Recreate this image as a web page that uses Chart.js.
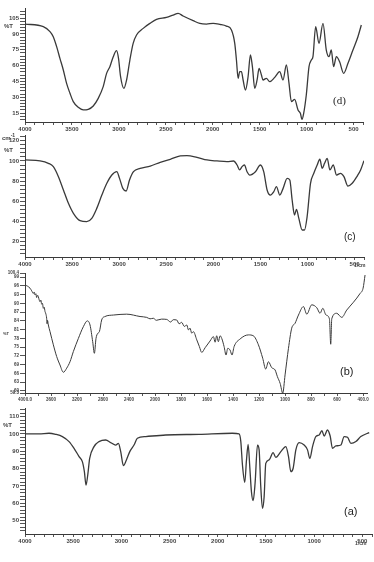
<!DOCTYPE html>
<html>
<head>
<meta charset="utf-8">
<script src="https://cdn.jsdelivr.net/npm/chart.js@4.4.1/dist/chart.umd.min.js"></script>
<style>
html, body { margin:0; padding:0; background:#fff; }
body { width:374px; height:562px; position:relative; overflow:hidden; font-family:"Liberation Sans", Arial, sans-serif; }
.pane { position:absolute; left:0; width:374px; }
.lbl { position:absolute; color:#333; white-space:nowrap; line-height:1; }
.tiny { font-size:6px; font-weight:bold; color:#444; }
.tag { font-size:11px; color:#222; }
</style>
</head>
<body>
<div class="pane" style="top:0;height:140px"><canvas id="chD"></canvas></div>
<div class="pane" style="top:130px;height:145px"><canvas id="chC"></canvas></div>
<div class="pane" style="top:268px;height:140px"><canvas id="chB"></canvas></div>
<div class="pane" style="top:403px;height:150px"><canvas id="chA"></canvas></div>

<div class="lbl tiny" style="left:4px;top:23px">%T</div>
<div class="lbl tiny" style="left:2px;top:133px">cm<sup style="font-size:5px">-1</sup></div>
<div class="lbl tiny" style="left:4px;top:147px">%T</div>
<div class="lbl tiny" style="left:3px;top:332px;font-size:4px">%T</div>
<div class="lbl tiny" style="left:3px;top:422px">%T</div>
<div class="lbl tiny" style="left:354px;top:263px;font-size:5px">1/cm</div>
<div class="lbl tiny" style="left:355px;top:541px;font-size:5px">1/cm</div>
<div class="lbl tag" style="left:333px;top:95px;font-family:'Liberation Serif',serif">(d)</div>
<div class="lbl tag" style="left:344px;top:232px;font-size:10px">(c)</div>
<div class="lbl tag" style="left:340px;top:366px">(b)</div>
<div class="lbl tag" style="left:344px;top:506px">(a)</div>

<script>
// (d) spectrum
const dWave = [4000,3805,3734,3699,3663,3628,3592,3557,3521,3486,3433,3379,3326,3273,3220,3167,3131,3096,3060,3025,
  3004,2982,2947,2918,2883,2848,2812,2741,2670,2599,2493,2422,2369,2316,2209,2138,2067,1996,1926,1855,
  1801,1766,1748,1730,1713,1695,1677,1652,1624,1599,1578,1553,1528,1507,1482,1465,1429,1394,1340,1287,
  1252,1216,1188,1163,1128,1092,1067,1050,1032,1004,975,950,933,904,869,826,791,762,738,713,
  684,649,606,560,507,454,418];
const dT = [99.3,96.8,92.1,87.3,77.9,66.8,55.8,43.1,33.7,25.8,20.4,17.9,18.5,21.7,28.9,40.0,52.6,58.9,68.4,74.1,
  66.8,49.4,38.4,46.3,65.2,81.0,88.9,95.2,99.9,103.7,105.6,107.8,109.4,106.9,102.5,99.9,99.3,99.9,99.0,97.4,
  93.6,81.0,65.2,47.9,54.2,54.2,46.3,36.8,49.4,70.0,58.9,38.4,46.3,57.3,51.0,46.3,47.9,44.7,48.8,54.2,
  46.3,60.5,43.1,25.8,28.0,17.9,14.7,9.0,14.7,32.1,58.9,65.2,68.4,96.8,81.0,99.9,74.7,68.4,74.7,58.9,
  68.4,63.6,52.6,62.1,74.7,87.3,98.4];

// (c) spectrum
const cWave = [4000,3840,3752,3699,3645,3592,3539,3486,3415,3344,3291,3238,3184,3131,3078,3025,2996,2961,2926,2890,
  2848,2777,2670,2564,2457,2351,2280,2174,2067,1961,1855,1784,1748,1720,1695,1670,1642,1613,1553,1500,
  1465,1429,1394,1358,1330,1294,1259,1216,1188,1163,1138,1117,1092,1057,1032,1004,968,933,897,869,
  844,819,791,762,727,691,649,613,571,525,472,436,400];
const cT = [101,100,97.7,94.4,84.5,71.3,58.1,48.2,40.9,39.9,43.2,53.1,66.3,77.9,86.1,89.4,82.8,72.9,70.3,81.2,
  89.4,92.7,95.0,98.7,101.7,105.0,105.3,103.6,101.0,100,99.3,100,96.0,91.1,94.4,96.0,89.4,86.1,89.4,96.0,
  89.4,71.3,66.3,69.6,74.6,66.3,72.9,82.8,81.2,61.4,46.5,52.1,43.2,31.7,31.7,44.9,77.9,87.8,96.0,101.7,
  92.7,97.7,102.6,91.1,96.0,86.1,87.8,84.5,75.2,77.9,85.1,91.1,100.3];

// (b) spectrum (instrument axis: 2x expanded below 2000)
const bWave = [4000,3962,3923,3897,3872,3859,3846,3833,3821,3808,3795,3782,3769,3756,3744,3731,3718,3705,3692,3679,
  3667,3660,3654,3641,3615,3564,3513,3462,3410,3359,3308,3256,3179,3103,3041,3000,2959,2933,2908,2882,
  2856,2821,2769,2641,2436,2231,2128,2077,2026,1990,1950,1910,1880,1860,1833,1815,1795,1775,1756,1743,
  1731,1718,1705,1679,1659,1641,1615,1577,1551,1538,1526,1513,1500,1487,1469,1454,1441,1423,1408,1392,
  1346,1282,1244,1205,1172,1149,1128,1103,1077,1059,1038,1018,1000,974,949,923,897,859,833,795,
  756,731,710,685,659,649,641,603,564,526,474,423,400,385];
const bT = [96.3,95.9,95.2,94.3,93.4,93.9,92.9,93.3,92.0,92.8,92.3,91.2,90.6,91.1,89.7,90.0,88.3,88.7,87.2,86.4,
  84.9,83.0,84.2,82.6,80.3,75.8,71.8,68.9,66.4,67.8,70.0,73.5,78.0,82.0,84.0,82.6,76.9,72.9,78.0,79.7,
  80.3,84.3,85.5,86.0,86.3,85.5,85.2,84.7,84.9,84.2,84.6,84.5,83.6,84.4,84.3,83.0,83.5,82.1,82.6,80.9,
  81.5,79.8,80.3,77.5,75.2,73.2,74.8,77.1,78.6,76.7,78.9,76.9,78.9,78.0,75.2,72.3,74.6,74.0,72.3,75.2,
  77.8,79.2,78.9,75.8,71.2,67.5,70.0,68.0,67.2,64.9,62.6,59.2,65.5,74.6,81.5,83.2,86.0,88.9,86.3,89.5,
  88.5,86.6,88.3,86.0,84.7,76.0,84.7,86.6,85.2,87.7,90.4,93.4,95.2,99.7];
const bXLabels = ['4000.0','3600','3200','2800','2400','2000','1800','1600','1400','1200','1000','800','600','400.0'];
const bYTicks = [60,63,66,69,72,75,78,81,84,87,90,93,96,99];

// (a) spectrum
const aWave = [4000,3855,3751,3682,3612,3543,3491,3439,3405,3384,3367,3349,3329,3284,3232,3163,3111,3059,3031,3007,
  2979,2948,2913,2869,2834,2747,2540,2194,1848,1779,1761,1744,1720,1702,1685,1668,1651,1633,1613,1588,
  1571,1554,1536,1519,1502,1467,1426,1398,1346,1294,1266,1242,1218,1190,1156,1104,1069,1045,1017,983,
  948,920,896,862,834,810,775,723,689,654,619,567,516,429];
const aT = [100,100,100.4,99.8,98.5,95.6,91.7,86.9,84.0,78.2,70.5,76.3,85.9,92.7,95.6,96.5,95.0,93.6,94.6,89.8,
  81.7,85.0,89.8,93.6,97.5,98.5,99.4,99.8,100.4,100,95.6,82.1,72.1,85.0,94.0,81.1,66.7,61.5,71.5,93.6,
  90.8,69.6,57.0,63.8,83.0,85.0,89.2,86.5,89.8,92.7,86.9,78.2,80.2,90.8,95.0,93.6,90.8,85.9,92.7,98.5,
  99.4,101.9,98.8,102.3,98.8,91.7,93.1,93.6,98.5,98.1,94.6,95.6,98.5,100.8];

const dYLabels = [105,90,75,60,45,30,15];
const cYLabels = [120,100,80,60,40,20];
const aYLabels = [110,100,90,80,70,60,50];

const INK = '#3a3a3a';

function range(a, b, step) {
  const out = [];
  for (let v = a; v <= b + 1e-9; v += step) out.push(Math.round(v * 100) / 100);
  return out;
}

// position on the expanded (b) axis
function bPos(w) { return w >= 2000 ? (4000 - w) / 400 : 5 + (2000 - w) / 200; }

function makePanel(id, pts, o) {
  const tickFont = { size: o.fs || 6, weight: 'bold', family: 'Liberation Sans, Arial, sans-serif' };
  return new Chart(document.getElementById(id), {
    type: 'line',
    data: { datasets: [{ data: pts, borderColor: INK, borderWidth: o.lw || 1.3, pointRadius: 0,
      tension: 0.4, cubicInterpolationMode: 'monotone', fill: false }] },
    options: {
      responsive: true, maintainAspectRatio: false, animation: false,
      layout: { padding: { top: o.top, right: o.right, left: 0, bottom: 0 } },
      plugins: { legend: { display: false }, tooltip: { enabled: false } },
      scales: {
        x: {
          type: 'linear', reverse: o.reverse, min: o.xmin, max: o.xmax,
          afterFit: s => { s.height = o.xh; },
          afterBuildTicks: s => { s.ticks = o.xticks.map(v => ({ value: v })); },
          grid: { drawOnChartArea: false, tickLength: 3, color: '#555' },
          border: { color: INK, width: 1 },
          ticks: { autoSkip: false, maxRotation: 0, padding: 1, font: tickFont, color: '#444', callback: o.xlab }
        },
        y: {
          min: o.ymin, max: o.ymax,
          afterFit: s => { s.width = 25; },
          afterBuildTicks: s => { s.ticks = o.yticks.map(v => ({ value: v })); },
          grid: { drawOnChartArea: false, tickLength: 5, color: '#555' },
          border: { color: INK, width: 1 },
          ticks: { autoSkip: false, padding: 1, font: tickFont, color: '#444', callback: o.ylab }
        }
      }
    }
  });
}

const hundreds = range(400, 4000, 100);
const every500 = v => (v % 500 === 0 ? String(v) : '');

makePanel('chD', dWave.map((w, i) => ({ x: w, y: dT[i] })), {
  reverse: true, xmin: 400, xmax: 4000, ymin: 6.5, ymax: 114.5,
  top: 8, right: 11, xh: 18, xticks: hundreds, xlab: every500,
  yticks: range(9, 111, 3), ylab: v => (dYLabels.includes(v) ? String(v) : '')
});

makePanel('chC', cWave.map((w, i) => ({ x: w, y: cT[i] })), {
  reverse: true, xmin: 400, xmax: 4000, ymin: 5, ymax: 125.7,
  top: 5, right: 10, xh: 18, xticks: hundreds, xlab: every500,
  yticks: range(8, 124, 4), ylab: v => (cYLabels.includes(v) ? String(v) : '')
});

makePanel('chB', bWave.map((w, i) => ({ x: bPos(w), y: bT[i] })), {
  lw: 1, fs: 4.5, reverse: false, xmin: 0, xmax: 13.15, ymin: 59.3, ymax: 100.4,
  top: 5, right: 7, xh: 15, xticks: range(0, 13, 0.5),
  xlab: v => (Number.isInteger(v) ? bXLabels[v] : ''),
  yticks: [59.3].concat(bYTicks, [100.4]),
  ylab: v => (bYTicks.includes(v) ? String(v) : v.toFixed(1))
});

makePanel('chA', aWave.map((w, i) => ({ x: w, y: aT[i] })), {
  reverse: true, xmin: 400, xmax: 4000, ymin: 42.2, ymax: 115,
  top: 5, right: 2, xh: 19, xticks: hundreds, xlab: every500,
  yticks: range(44, 114, 2), ylab: v => (aYLabels.includes(v) ? String(v) : '')
});
</script>
</body>
</html>
